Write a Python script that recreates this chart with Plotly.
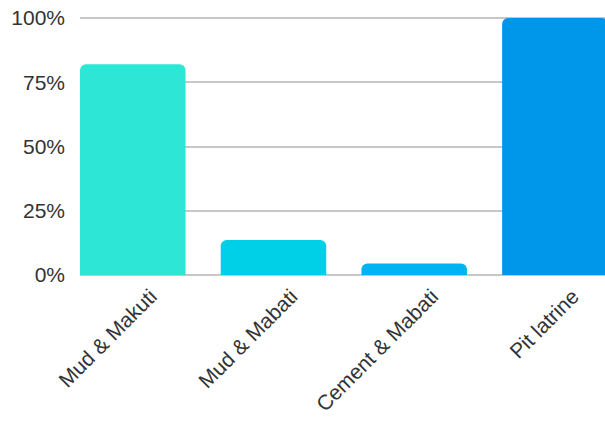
import plotly.graph_objects as go

categories = ["Mud & Makuti", "Mud & Mabati", "Cement & Mabati", "Pit latrine"]
values = [82, 13.6, 4.5, 100]
colors = ["#2EE6D6", "#00CFE8", "#00B4F3", "#0096EA"]
y_ticks = [0, 25, 50, 75, 100]
y_tick_labels = ["0%", "25%", "50%", "75%", "100%"]

fig = go.Figure()
fig.add_trace(go.Bar(
    x=categories, y=values,
    marker=dict(color=colors, cornerradius=6, line=dict(width=0)),
    hoverinfo="skip",
))

fig.update_layout(
    width=605, height=423,
    margin=dict(l=80, r=0, t=17, b=148),
    paper_bgcolor="white", plot_bgcolor="white",
    bargap=0.25,
    showlegend=False,
    font=dict(family="Liberation Sans, Arial, sans-serif", size=20, color="#333333"),
    xaxis=dict(
        type="category",
        range=[-0.375, 3.356],
        tickangle=-45,
        showgrid=False, showline=False, ticks="", zeroline=False,
        ticklabelstandoff=4,
        ticklabelshift=18,
        tickfont=dict(size=21, color="#333333"),
    ),
)
fig.update_yaxes(
    range=[0, 100.4],
    tickvals=y_ticks,
    ticktext=y_tick_labels,
    showgrid=True,
    gridcolor="#c8c8c8",
    gridwidth=1.5,
    zeroline=True,
    zerolinecolor="#c8c8c8",
    zerolinewidth=1.5,
    ticks="",
    ticklabelstandoff=14,
    tickfont=dict(size=21, color="#333333"),
)

fig.write_html("out.html")
